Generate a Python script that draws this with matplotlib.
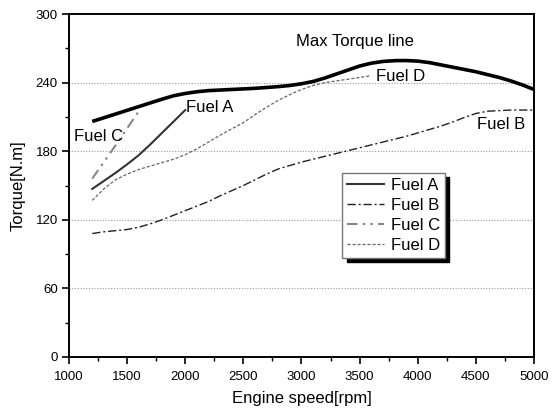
import matplotlib.pyplot as plt
import numpy as np

plt.rcParams['font.family'] = ['Liberation Sans', 'DejaVu Sans']

# engine speed [rpm] and torque [N.m] read per curve
max_rpm = [1200, 1400, 1600, 1800, 1900, 2000, 2100, 2200, 2400, 2600, 2800, 2900, 3000, 3100,
           3200, 3300, 3400, 3500, 3600, 3700, 3800, 3900, 4000, 4100, 4200, 4300, 4400, 4500,
           4600, 4700, 4800, 4900, 5000]
max_torque = [206, 212.5, 219, 225.5, 228.5, 230.5, 232, 233, 234, 235, 236.5, 237.5, 239, 241,
              244, 247.5, 251, 254.5, 257, 258.5, 259.2, 259.3, 258.8, 257.5, 255.5, 253.5, 251.5, 249.5,
              247, 244.5, 241.5, 238, 234]

fuel_a_rpm = [1200, 1300, 1400, 1500, 1600, 1700, 1800, 1900, 2000]
fuel_a = [147, 154, 161, 168.5, 176.5, 186, 196, 206, 216]

fuel_b_rpm = [1200, 1300, 1400, 1500, 1600, 1700, 1800, 1900, 2000, 2100, 2200, 2300, 2400, 2500,
              2600, 2700, 2800, 2900, 3000, 3100, 3200, 3300, 3400, 3500, 3600, 3700, 3800, 3900,
              4000, 4100, 4200, 4300, 4400, 4500, 4600, 4700, 4800, 5000]
fuel_b = [108, 109.5, 110.5, 111.5, 113.5, 116.5, 120, 124, 128, 132, 136, 141, 145.5, 150,
          155, 160, 164.5, 167.5, 170.5, 173, 175.5, 178, 180.5, 183, 185.5, 188, 190.5, 193,
          196, 199, 202, 205.5, 209.5, 213, 215, 215.5, 216, 216]

fuel_c_rpm = [1200, 1400, 1600]
fuel_c = [156, 185, 215]

fuel_d_rpm = [1200, 1300, 1400, 1500, 1600, 1700, 1800, 1900, 2000, 2100, 2200, 2300, 2400, 2500,
              2600, 2700, 2800, 2900, 3000, 3100, 3200, 3300, 3400, 3500, 3600]
fuel_d = [137, 147, 155, 160, 164, 167, 170, 173, 177, 182, 188, 194, 199.5, 205,
          212, 218.5, 224.5, 229.5, 234, 237.5, 240, 241.5, 243, 244.5, 246]

fig = plt.figure(figsize=(5.59, 4.11), dpi=100)
ax = fig.add_axes([0.1234, 0.1314, 0.8319, 0.8345])

ax.plot(max_rpm, max_torque, color='black', lw=2.6, solid_capstyle='butt')
ax.plot(fuel_a_rpm, fuel_a, color='#333333', lw=1.5, label='Fuel A')
ax.plot(fuel_b_rpm, fuel_b, color='#222222', lw=1.0, dashes=(6, 2, 1.5, 2), label='Fuel B')
ax.plot(fuel_c_rpm, fuel_c, color='#888888', lw=1.5, dashes=(5, 2.5, 1.2, 2.5, 1.2, 2.5), label='Fuel C')
ax.plot(fuel_d_rpm, fuel_d, color='#666666', lw=0.9, dashes=(2.5, 1.5), label='Fuel D')

ax.set_xlim(1000, 5000)
ax.set_ylim(0, 300)
ax.set_xticks(np.arange(1000, 5001, 500))
ax.set_yticks(np.arange(0, 301, 60))
ax.set_xticks(np.arange(1000, 5001, 250), minor=True)
ax.set_yticks(np.arange(0, 301, 30), minor=True)
ax.tick_params(which='major', direction='out', length=5, width=1.2, labelsize=9.5)
ax.tick_params(axis='x', which='major', pad=5)
ax.tick_params(axis='y', which='major', pad=3)
ax.tick_params(which='minor', direction='out', length=3, width=1.0)
ax.tick_params(top=False, right=False)
for sp in ax.spines.values():
    sp.set_linewidth(1.4)

for yv in [60, 120, 180, 240]:
    ax.axhline(yv, color='#999999', lw=0.8, ls=(0, (1, 1.5)), zorder=0)

ax.set_xlabel('Engine speed[rpm]', fontsize=12, labelpad=6)
ax.set_ylabel('Torque[N.m]', fontsize=12, labelpad=7)

ax.text(2950, 276, 'Max Torque line', fontsize=12, va='center')
ax.text(2010, 218, 'Fuel A', fontsize=12, va='center')
ax.text(1045, 193, 'Fuel C', fontsize=12, va='center')
ax.text(3645, 245, 'Fuel D', fontsize=12, va='center')
ax.text(4510, 203, 'Fuel B', fontsize=12, va='center')

leg = ax.legend(loc='upper left', bbox_to_anchor=(0.588, 0.537), fontsize=12, fancybox=False,
                framealpha=1, edgecolor='#777777', handlelength=2.2, handletextpad=0.4,
                labelspacing=0.3, borderpad=0.3, borderaxespad=0,
                shadow={'ox': 3, 'oy': -3, 'facecolor': 'black', 'edgecolor': 'black', 'alpha': 1})
leg.get_frame().set_linewidth(1.0)

fig.savefig('out.png', dpi=100)
